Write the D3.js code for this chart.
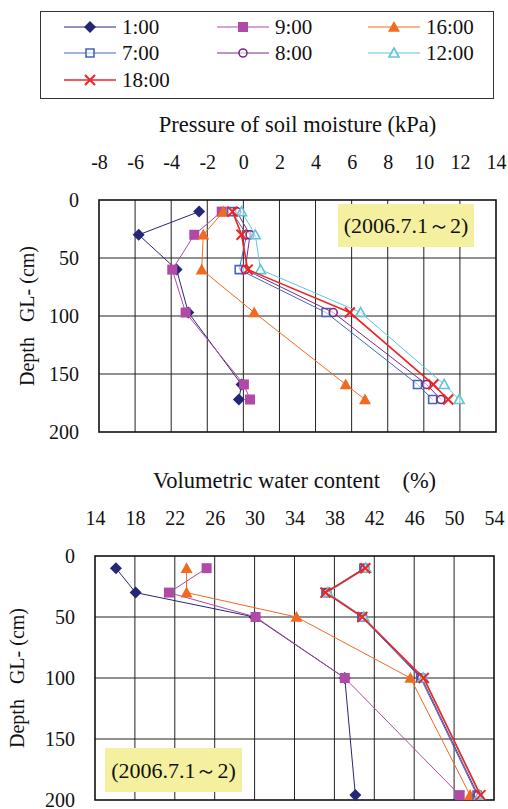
<!DOCTYPE html>
<html>
<head>
<meta charset="utf-8">
<script src="https://cdn.jsdelivr.net/npm/d3@7"></script>
<style>
  body { margin: 0; background: #fff; }
  text { font-family: "Liberation Serif", "Times New Roman", serif; fill: #111; }
</style>
</head>
<body>
<script>
const width = 508;
const height = 809;

// Series (legend order)
const seriesNames = ["1:00", "9:00", "16:00", "7:00", "8:00", "12:00", "18:00"];

// Top chart: pressure of soil moisture (kPa) by depth
const pressureDepths = [10, 30, 60, 97, 159, 172];
const pressure1 = [-2.45, -5.8, -3.7, -3.05, -0.1, -0.25];
const pressure9 = [-1.2, -2.72, -3.94, -3.2, 0.03, 0.37];
const pressure16 = [-1.11, -2.22, -2.31, 0.6, 5.67, 6.74];
const pressure7 = [-0.65, 0.18, -0.23, 4.58, 9.65, 10.49];
const pressure8 = [-0.37, 0.37, 0.1, 4.98, 10.15, 10.95];
const pressure12 = [-0.1, 0.66, 0.95, 6.5, 11.13, 11.96];
const pressure18 = [-0.6, -0.1, 0.24, 5.9, 10.52, 11.35];
const pressureTicks = [-8, -6, -4, -2, 0, 2, 4, 6, 8, 10, 12, 14];

// Bottom chart: volumetric water content (%) by depth
const waterDepths = [10, 30, 50, 100, 196];
const water1 = [16.1, 18.07, 30.0, 39.04, 40.1];
const water9 = [25.19, 21.41, 30.1, 39.04, 50.56];
const water16 = [23.18, 23.18, 34.2, 45.62, 51.6];
const water7 = [40.95, 37.15, 40.75, 46.65, 52.3];
const water8 = [41.05, 37.25, 40.85, 46.75, 52.4];
const water12 = [41.15, 37.35, 40.95, 46.9, 52.55];
const water18 = [41.1, 37.1, 40.8, 46.95, 52.65];
const waterTicks = [14, 18, 22, 26, 30, 34, 38, 42, 46, 50, 54];

const depthTicks = [0, 50, 100, 150, 200];

// Style per series
const styles = {
  "1:00":  {color: "#262676", shape: "diamond", fill: true,  size: 12, lw: 1},
  "9:00":  {color: "#b04aa6", shape: "square",  fill: true,  size: 10, lw: 1},
  "16:00": {color: "#f26a1f", shape: "triangle", fill: true, size: 12, lw: 1},
  "7:00":  {color: "#4466bb", shape: "square",  fill: false, size: 8,  lw: 1},
  "8:00":  {color: "#7a2a86", shape: "circle",  fill: false, size: 8,  lw: 1},
  "12:00": {color: "#5fc6d6", shape: "triangle", fill: false, size: 10, lw: 1},
  "18:00": {color: "#ee2424", shape: "cross",   fill: false, size: 10, lw: 1.6}
};

const svg = d3.select("body")
  .append("svg")
  .attr("width", width)
  .attr("height", height);

function markerPath(shape, s) {
  const h = s / 2;
  if (shape === "diamond") return `M0,${-h}L${h},0L0,${h}L${-h},0Z`;
  if (shape === "square") return `M${-h},${-h}H${h}V${h}H${-h}Z`;
  if (shape === "triangle") return `M0,${-h}L${h},${h * 0.8}L${-h},${h * 0.8}Z`;
  if (shape === "cross") return `M${-h},${-h}L${h},${h}M${-h},${h}L${h},${-h}`;
  return null;
}

function drawMarker(g, name, x, y) {
  const st = styles[name];
  if (st.shape === "circle") {
    g.append("circle")
      .attr("cx", x).attr("cy", y).attr("r", st.size / 2)
      .attr("fill", "#fff").attr("fill-opacity", 0.6)
      .attr("stroke", st.color).attr("stroke-width", 1.6);
  } else {
    g.append("path")
      .attr("transform", `translate(${x},${y})`)
      .attr("d", markerPath(st.shape, st.size))
      .attr("fill", st.fill ? st.color : (st.shape === "cross" ? "none" : "#fff"))
      .attr("fill-opacity", st.fill ? 1 : 0.6)
      .attr("stroke", st.color)
      .attr("stroke-width", st.shape === "cross" ? 2 : (st.fill ? 0 : 1.6));
  }
}

// Legend
const legend = svg.append("g");
legend.append("rect")
  .attr("x", 40.5).attr("y", 11.5).attr("width", 453).attr("height", 87)
  .attr("fill", "none").attr("stroke", "#333").attr("stroke-width", 1);
const legX = [64, 217, 368];
const legY = [27, 53, 80];
seriesNames.forEach((name, i) => {
  const cx = legX[i % 3], cy = legY[Math.floor(i / 3)];
  legend.append("line")
    .attr("x1", cx).attr("x2", cx + 52).attr("y1", cy).attr("y2", cy)
    .attr("stroke", styles[name].color).attr("stroke-width", styles[name].lw);
  drawMarker(legend, name, cx + 26, cy);
  legend.append("text")
    .attr("x", cx + 58).attr("y", cy).attr("dy", "0.35em")
    .attr("font-size", 21).text(name);
});

function drawPanel(opts) {
  const {xDomain, xRange, yRange, xTicks, title, depths, series, note} = opts;
  const x = d3.scaleLinear().domain(xDomain).range(xRange);
  const y = d3.scaleLinear().domain([0, 200]).range(yRange);
  const g = svg.append("g");

  // Grid
  g.selectAll(".vgrid").data(xTicks.slice(1, -1)).join("line")
    .attr("x1", d => x(d)).attr("x2", d => x(d))
    .attr("y1", yRange[0]).attr("y2", yRange[1])
    .attr("stroke", "#222").attr("stroke-width", 1);
  g.selectAll(".hgrid").data(depthTicks.slice(1, -1)).join("line")
    .attr("x1", xRange[0]).attr("x2", xRange[1])
    .attr("y1", d => y(d)).attr("y2", d => y(d))
    .attr("stroke", "#222").attr("stroke-width", 1);

  // Note box
  if (note) {
    g.append("rect")
      .attr("x", note.x).attr("y", note.y).attr("width", note.w).attr("height", note.h)
      .attr("fill", "#f4f0a0");
    g.append("text")
      .attr("x", note.x + note.w / 2).attr("y", note.y + note.h / 2).attr("dy", "0.35em")
      .attr("text-anchor", "middle").attr("font-size", 22)
      .text("(2006.7.1～2)");
  }

  // Frame
  g.append("rect")
    .attr("x", xRange[0]).attr("y", yRange[0])
    .attr("width", xRange[1] - xRange[0]).attr("height", yRange[1] - yRange[0])
    .attr("fill", "none").attr("stroke", "#111").attr("stroke-width", 1.6);

  // Axes (labels only)
  const xAxis = g.append("g")
    .attr("transform", `translate(0,${yRange[0] - 31})`)
    .call(d3.axisTop(x).tickValues(xTicks).tickFormat(d => String(d)).tickSize(0).tickPadding(0));
  xAxis.select(".domain").remove();
  xAxis.selectAll("text").attr("font-size", 20).attr("font-family", "Liberation Serif").attr("fill", "#111");

  const yAxis = g.append("g")
    .attr("transform", `translate(${xRange[0] - 20},0)`)
    .call(d3.axisLeft(y).tickValues(depthTicks).tickSize(0).tickPadding(0));
  yAxis.select(".domain").remove();
  yAxis.selectAll("text").attr("font-size", 20).attr("font-family", "Liberation Serif").attr("fill", "#111");

  g.append("text")
    .attr("x", (xRange[0] + xRange[1]) / 2).attr("y", yRange[0] - 76)
    .attr("dy", "0.35em").attr("text-anchor", "middle").attr("font-size", 22.5)
    .attr("xml:space", "preserve")
    .text(title);

  g.append("text")
    .attr("transform", `translate(${opts.yLabelX},${(yRange[0] + yRange[1]) / 2}) rotate(-90)`)
    .attr("dy", "0.35em").attr("text-anchor", "middle").attr("font-size", 20)
    .attr("xml:space", "preserve")
    .text("Depth   GL- (cm)");

  // Series
  const line = d3.line().x(d => x(d[0])).y(d => y(d[1]));
  seriesNames.forEach(name => {
    const pts = series[name].map((v, i) => [v, depths[i]]);
    const st = styles[name];
    g.append("path").datum(pts)
      .attr("d", line).attr("fill", "none")
      .attr("stroke", st.color).attr("stroke-width", st.lw);
    pts.forEach(p => drawMarker(g, name, x(p[0]), y(p[1])));
  });
}

drawPanel({
  xDomain: [-8, 14], xRange: [99, 496], yRange: [200, 432],
  xTicks: pressureTicks, title: "Pressure of soil moisture (kPa)",
  depths: pressureDepths, yLabelX: 27,
  series: {"1:00": pressure1, "9:00": pressure9, "16:00": pressure16, "7:00": pressure7,
           "8:00": pressure8, "12:00": pressure12, "18:00": pressure18},
  note: {x: 338, y: 204, w: 136, h: 43}
});

drawPanel({
  xDomain: [14, 54], xRange: [95, 494], yRange: [556, 800],
  xTicks: waterTicks, title: "Volumetric water content    (%)",
  depths: waterDepths, yLabelX: 17,
  series: {"1:00": water1, "9:00": water9, "16:00": water16, "7:00": water7,
           "8:00": water8, "12:00": water12, "18:00": water18},
  note: {x: 105, y: 748, w: 137, h: 44}
});
</script>
</body>
</html>
